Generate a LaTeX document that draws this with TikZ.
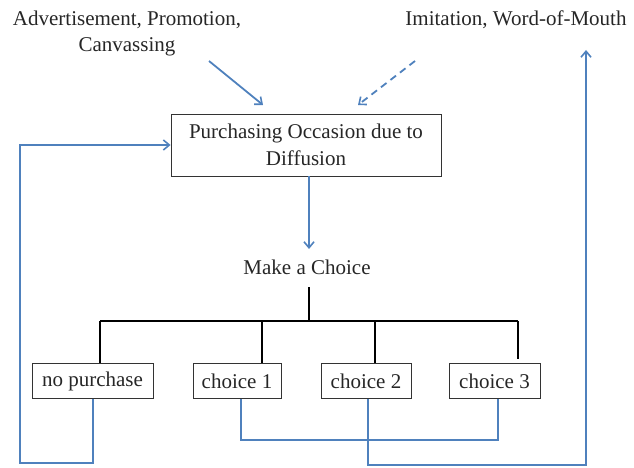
\documentclass[tikz,border=0pt]{standalone}
\usepackage{fontspec}
\setmainfont{Liberation Serif}
\usetikzlibrary{arrows.meta}
\definecolor{officeblue}{RGB}{79,129,189}
\begin{document}
\begin{tikzpicture}[x=1pt,y=-1pt,
  txt/.style={font=\fontsize{21}{26}\selectfont, align=center, inner sep=0pt, text=black!85},
  box/.style={draw=black!80, line width=0.9pt, font=\fontsize{21}{27}\selectfont, align=center, inner sep=0pt, text=black!85},
  bluel/.style={draw=officeblue, line width=1.8pt},
  blackl/.style={draw=black, line width=1.6pt},
  tip/.style={-{Straight Barb[length=6pt,width=10pt,line width=1.6pt]}}
]
\useasboundingbox (0,0) rectangle (634,468);
% text nodes
\node[txt] (adv) at (127,33) {Advertisement, Promotion,\\Canvassing};
\node[txt] (imi) at (516,20) {Imitation, Word-of-Mouth};
\node[box, minimum width=270, minimum height=62] (occ) at (306,145) {Purchasing Occasion due to\\Diffusion};
\node[txt] (mac) at (307,267) {Make a Choice};
\node[box, minimum width=121, minimum height=35] (np) at (92.5,381) {no purchase};
\node[box, minimum width=88, minimum height=35] (c1) at (237,381) {choice 1};
\node[box, minimum width=90, minimum height=35] (c2) at (366,381) {choice 2};
\node[box, minimum width=91, minimum height=35] (c3) at (494.5,381) {choice 3};
% coordinates
\coordinate (a1s) at (209,61);
\coordinate (a1e) at (263,105);
\coordinate (a2s) at (415,61);
\coordinate (a2e) at (358,105);
\coordinate (hub) at (309,321);
\coordinate (hl) at (100,321);
\coordinate (hr) at (518,321);
\coordinate (up) at (586,50);
% incoming arrows
\draw[bluel, tip] (a1s) -- (a1e);
\draw[bluel, tip, dash pattern=on 7pt off 5pt] (a2s) -- (a2e);
\draw[bluel, tip] (occ.south -| 309,0) -- (309,249);
% tree
\draw[blackl] (309,287) -- (hub);
\draw[blackl] (hl) -- (hr);
\draw[blackl] (hl) -- (hl |- np.north);
\draw[blackl] (262,321) -- (262,0 |- c1.north);
\draw[blackl] (375,321) -- (375,0 |- c2.north);
\draw[blackl] (hr) -- (518,359);
% feedback loops
\draw[bluel, tip] (93,0 |- np.south) -- (93,463) -- (20,463) -- (20,145) -- (occ.west);
\draw[bluel] (241,0 |- c1.south) -- (241,440) -- (498,440) -- (498,0 |- c3.south);
\draw[bluel, tip] (368,0 |- c2.south) -- (368,465) -- (586,465) -- (up);
\end{tikzpicture}
\end{document}
